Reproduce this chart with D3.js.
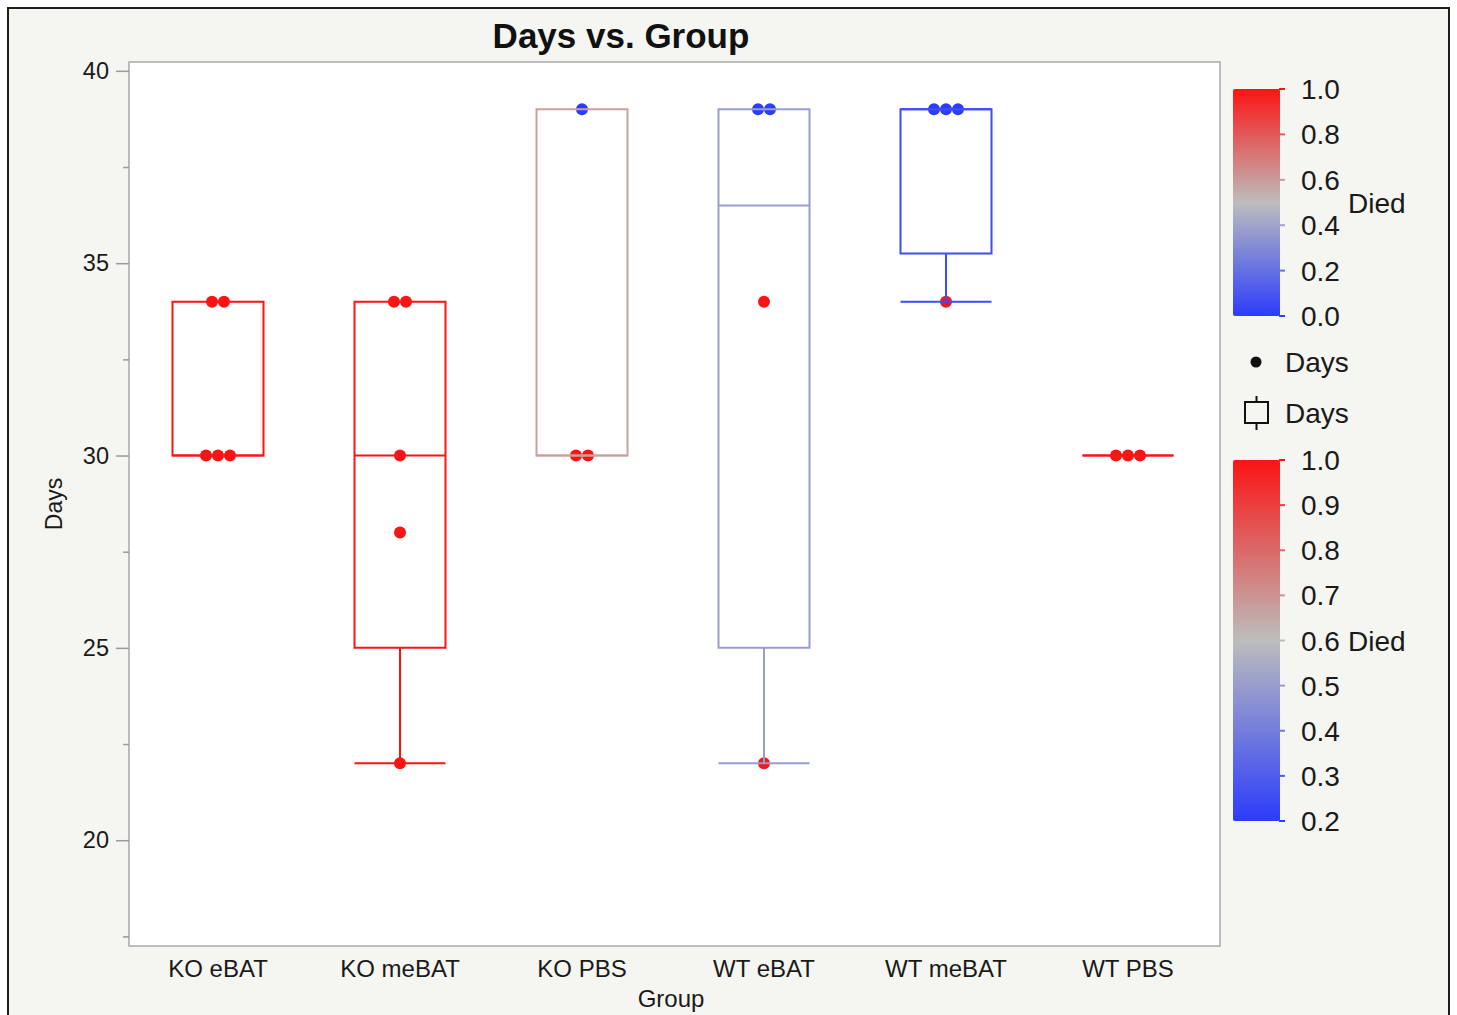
<!DOCTYPE html>
<html>
<head>
<meta charset="utf-8">
<script src="https://cdn.jsdelivr.net/npm/d3@7"></script>
<style>
  html, body { margin: 0; padding: 0; background: #ffffff; }
  svg { display: block; font-family: "Liberation Sans", Arial, Helvetica, sans-serif; }
</style>
</head>
<body>
<svg id="chart" width="1457" height="1015"></svg>
<script>
// Groups on the x axis
const groups = ["KO eBAT", "KO meBAT", "KO PBS", "WT eBAT", "WT meBAT", "WT PBS"];
// Survival days of each animal, per group
const days = [
  [34, 34, 30, 30, 30],
  [34, 34, 30, 28, 22],
  [39, 30, 30],
  [39, 39, 34, 22],
  [39, 39, 39, 34],
  [30, 30, 30]
];
// Died flag (1 = died, 0 = survived), per animal, same order as days
const died = [
  [1, 1, 1, 1, 1],
  [1, 1, 1, 1, 1],
  [0, 1, 1],
  [0, 0, 1, 1],
  [0, 0, 0, 1],
  [1, 1, 1]
];
// Axis ticks
const yMajorTicks = [20, 25, 30, 35, 40];
const yMinorTicks = [17.5, 22.5, 27.5, 32.5, 37.5];
const pointLegendTicks = [0.0, 0.2, 0.4, 0.6, 0.8, 1.0];
const boxLegendTicks = [0.2, 0.3, 0.4, 0.5, 0.6, 0.7, 0.8, 0.9, 1.0];

const svg = d3.select("#chart");
const W = 1457, H = 1015;
const plot = { left: 129, right: 1220, top: 62, bottom: 946 };

// Blue - gray - red colour ramps
const BLUE = "#2b3cfb", GRAY = "#bdbdbd", RED = "#fb1414";
const pointColor = d3.scaleLinear().domain([0, 0.5, 1]).range([BLUE, GRAY, RED]).interpolate(d3.interpolateRgb);
const boxColor = d3.scaleLinear().domain([0.2, 0.6, 1]).range([BLUE, GRAY, RED]).interpolate(d3.interpolateRgb);

// Frame background
svg.append("rect").attr("x", 0).attr("y", 0).attr("width", W).attr("height", H).attr("fill", "#ffffff");
svg.append("rect").attr("x", 8).attr("y", 8).attr("width", 1441).attr("height", 1030)
  .attr("fill", "#f5f5f1").attr("stroke", "#1e1e1e").attr("stroke-width", 2);

// Scales
const x = d3.scaleBand().domain(groups).range([127, 1219]).paddingInner(0).paddingOuter(0);
const y = d3.scaleLinear().domain([17.25, 40.23]).range([plot.bottom, plot.top]);
const boxW = x.bandwidth() / 2;

// Plot area
svg.append("rect").attr("x", plot.left).attr("y", plot.top)
  .attr("width", plot.right - plot.left).attr("height", plot.bottom - plot.top)
  .attr("fill", "#ffffff").attr("stroke", "#a8a8a8").attr("stroke-width", 1.5);

// Title
svg.append("text").attr("x", 621).attr("y", 48).attr("text-anchor", "middle")
  .attr("font-size", 35).attr("font-weight", "bold").attr("fill", "#111")
  .text("Days vs. Group");

// Y axis
const yAxis = d3.axisLeft(y).tickValues(yMajorTicks).tickSize(13).tickPadding(7).tickFormat(d3.format("d"));
const gy = svg.append("g").attr("transform", `translate(${plot.left},0)`).call(yAxis);
gy.select(".domain").remove();
gy.selectAll(".tick line").attr("stroke", "#9a9a9a").attr("stroke-width", 1.5);
gy.selectAll(".tick text").attr("font-size", 23.5).attr("fill", "#1a1a1a")
  .attr("font-family", "'Liberation Sans', Arial, sans-serif");
const yMinor = d3.axisLeft(y).tickValues(yMinorTicks).tickSize(6).tickFormat("");
const gym = svg.append("g").attr("transform", `translate(${plot.left},0)`).call(yMinor);
gym.select(".domain").remove();
gym.selectAll(".tick line").attr("stroke", "#9a9a9a").attr("stroke-width", 1.5);

svg.append("text").attr("transform", "translate(62,504) rotate(-90)")
  .attr("text-anchor", "middle").attr("font-size", 23).attr("fill", "#1a1a1a").text("Days");

// X axis
const xAxis = d3.axisBottom(x).tickSize(0).tickPadding(14);
const gx = svg.append("g").attr("transform", `translate(0,${plot.bottom})`).call(xAxis);
gx.select(".domain").remove();
gx.selectAll(".tick text").attr("font-size", 24).attr("fill", "#1a1a1a")
  .attr("font-family", "'Liberation Sans', Arial, sans-serif");
svg.append("text").attr("x", 671).attr("y", 1007).attr("text-anchor", "middle")
  .attr("font-size", 24).attr("fill", "#1a1a1a").text("Group");

// Quantile using the (n+1)p rule
function quant(sorted, p) {
  const n = sorted.length;
  const pos = (n + 1) * p;
  if (pos <= 1) return sorted[0];
  if (pos >= n) return sorted[n - 1];
  const lo = Math.floor(pos), f = pos - lo;
  return sorted[lo - 1] + f * (sorted[lo] - sorted[lo - 1]);
}

// Points (drawn below boxes), identical values spread side by side
const pts = [];
groups.forEach((g, gi) => {
  const vals = days[gi];
  const counts = d3.rollup(vals, v => v.length, v => v);
  const seen = new Map();
  vals.forEach((v, i) => {
    const k = seen.get(v) || 0;
    seen.set(v, k + 1);
    const n = counts.get(v);
    pts.push({ g, v, died: died[gi][i], off: (k - (n - 1) / 2) * 12 });
  });
});
svg.append("g").selectAll("circle").data(pts).join("circle")
  .attr("cx", d => x(d.g) + x.bandwidth() / 2 + d.off)
  .attr("cy", d => y(d.v))
  .attr("r", 6)
  .attr("fill", d => pointColor(d.died));

// Box plots coloured by mean of Died
const boxes = svg.append("g");
groups.forEach((g, gi) => {
  const s = days[gi].slice().sort(d3.ascending);
  const q1 = quant(s, 0.25), med = quant(s, 0.5), q3 = quant(s, 0.75);
  const iqr = q3 - q1;
  const loW = d3.min(s.filter(v => v >= q1 - 1.5 * iqr));
  const hiW = d3.max(s.filter(v => v <= q3 + 1.5 * iqr));
  const col = boxColor(d3.mean(died[gi]));
  const cx = x(g) + x.bandwidth() / 2;
  const x0 = cx - boxW / 2, x1 = cx + boxW / 2;
  const gB = boxes.append("g").attr("stroke", col).attr("stroke-width", 2).attr("fill", "none");
  gB.append("path").attr("d", `M${x0},${y(q3)}H${x1}V${y(q1)}H${x0}Z`);
  gB.append("line").attr("x1", x0).attr("x2", x1).attr("y1", y(med)).attr("y2", y(med));
  if (loW < q1) {
    gB.append("line").attr("x1", cx).attr("x2", cx).attr("y1", y(q1)).attr("y2", y(loW));
    gB.append("line").attr("x1", x0).attr("x2", x1).attr("y1", y(loW)).attr("y2", y(loW));
  }
  if (hiW > q3) {
    gB.append("line").attr("x1", cx).attr("x2", cx).attr("y1", y(q3)).attr("y2", y(hiW));
    gB.append("line").attr("x1", x0).attr("x2", x1).attr("y1", y(hiW)).attr("y2", y(hiW));
  }
});

// Colour legends
const defs = svg.append("defs");
function colorLegend(id, scale, ticks, top, bottom, labelValue) {
  const [lo, hi] = [ticks[0], ticks[ticks.length - 1]];
  const grad = defs.append("linearGradient").attr("id", id)
    .attr("x1", 0).attr("x2", 0).attr("y1", 1).attr("y2", 0);
  d3.range(0, 1.0001, 0.05).forEach(t => {
    grad.append("stop").attr("offset", t).attr("stop-color", scale(lo + t * (hi - lo)));
  });
  const ly = d3.scaleLinear().domain([lo, hi]).range([bottom, top]);
  const g = svg.append("g");
  g.append("rect").attr("x", 1233).attr("y", top).attr("width", 47).attr("height", bottom - top)
    .attr("rx", 2).attr("fill", `url(#${id})`);
  g.selectAll("line.t").data(ticks).join("line").attr("class", "t")
    .attr("x1", 1279).attr("x2", 1285).attr("y1", d => ly(d)).attr("y2", d => ly(d))
    .attr("stroke", d => scale(d)).attr("stroke-width", 2);
  g.selectAll("text.t").data(ticks).join("text").attr("class", "t")
    .attr("x", 1301).attr("y", d => ly(d)).attr("dy", "0.36em")
    .attr("font-size", 28).attr("fill", "#1a1a1a").text(d => d3.format(".1f")(d));
  g.append("text").attr("x", 1348).attr("y", ly(labelValue)).attr("dy", "0.36em")
    .attr("font-size", 28).attr("fill", "#1a1a1a").text("Died");
}
colorLegend("gradPoints", pointColor, pointLegendTicks, 89, 316, 0.5);
colorLegend("gradBoxes", boxColor, boxLegendTicks, 460, 821, 0.6);

// Marker legend entries
svg.append("circle").attr("cx", 1256).attr("cy", 362).attr("r", 5.5).attr("fill", "#111");
svg.append("text").attr("x", 1285).attr("y", 362).attr("dy", "0.36em")
  .attr("font-size", 28).attr("fill", "#1a1a1a").text("Days");
const icon = svg.append("g").attr("stroke", "#111").attr("stroke-width", 2).attr("fill", "none");
icon.append("rect").attr("x", 1245).attr("y", 402).attr("width", 23).attr("height", 21);
icon.append("line").attr("x1", 1256.5).attr("x2", 1256.5).attr("y1", 396).attr("y2", 402);
icon.append("line").attr("x1", 1256.5).attr("x2", 1256.5).attr("y1", 423).attr("y2", 430);
svg.append("text").attr("x", 1285).attr("y", 413).attr("dy", "0.36em")
  .attr("font-size", 28).attr("fill", "#1a1a1a").text("Days");
</script>
</body>
</html>
